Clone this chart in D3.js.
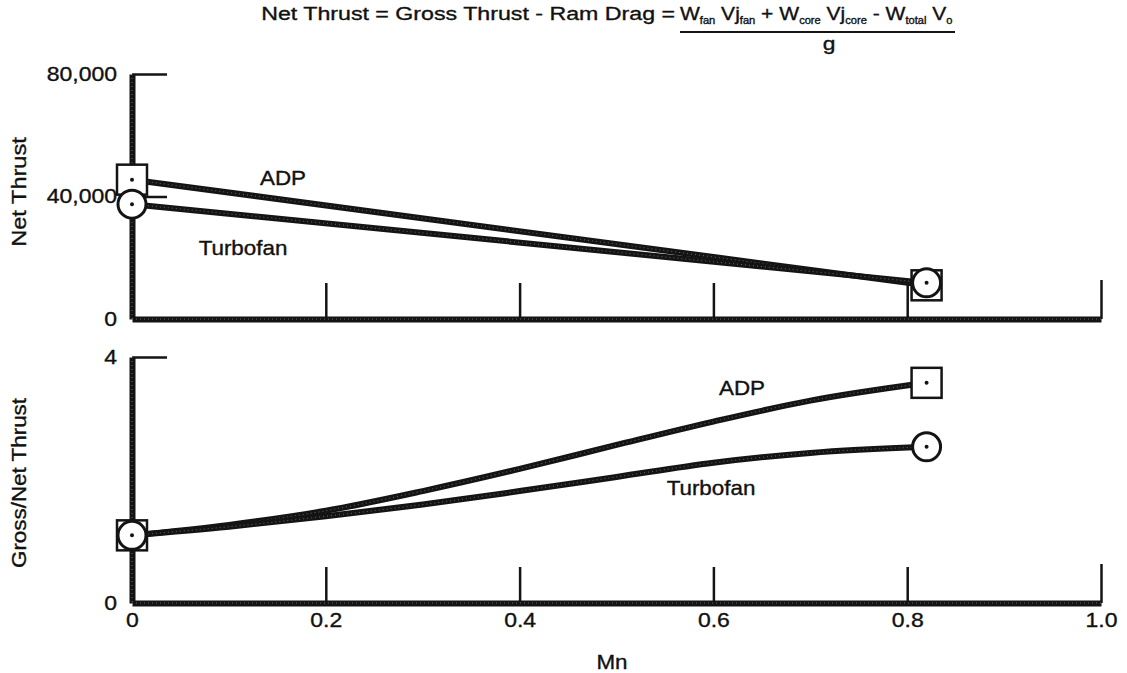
<!DOCTYPE html>
<html>
<head>
<meta charset="utf-8">
<script src="https://cdn.jsdelivr.net/npm/d3@7"></script>
<style>
  body { margin: 0; background: #fff; overflow: hidden; }
  svg { display: block; }
  text { font-family: "Liberation Sans", Arial, sans-serif; fill: #111; stroke: #111; stroke-width: 0.35; }
</style>
</head>
<body>
<div id="chart"></div>
<script>
"use strict"

const WIDTH = 1127;
const HEIGHT = 673;

// top panel: net thrust vs Mn
const mnTop = [0, 0.82];
const adpThrust = [45500, 11000];
const turbofanThrust = [37500, 11800];

// bottom panel: gross/net thrust vs Mn
const mnBottom = [0, 0.1, 0.2, 0.3, 0.4, 0.5, 0.6, 0.7, 0.82];
const adpRatio = [1.1, 1.27, 1.5, 1.82, 2.18, 2.57, 2.95, 3.29, 3.58];
const turbofanRatio = [1.1, 1.24, 1.41, 1.6, 1.82, 2.05, 2.28, 2.44, 2.54];

const xTicks = [0, 0.2, 0.4, 0.6, 0.8, 1.0];
const thrustTicks = [0, 40000, 80000];
const ratioTicks = [0, 4];

const INK = "#141414";
const STRETCH = 'scale(1.15,1)';   // the scanned lettering is wider than Arial

var svg = d3.select('#chart')
	.append('svg')
	.attr('width', WIDTH)
	.attr('height', HEIGHT);

var x = d3.scaleLinear().domain([0, 1]).range([132, 1101]);
var yTop = d3.scaleLinear().domain([0, 80000]).range([319, 74]);
var yBot = d3.scaleLinear().domain([0, 4]).range([603, 357]);

// thick halftone-ish stroke: dark line plus faint white dots
function thick(sel, w) {
	sel.attr('fill', 'none').attr('stroke', INK).attr('stroke-width', w);
}
function dots(g, d) {
	g.append('path').attr('d', d)
		.attr('fill', 'none')
		.attr('stroke', '#fff')
		.attr('stroke-width', 1)
		.attr('stroke-dasharray', '1 3')
		.attr('opacity', 0.35);
}

function panel(y, yMax) {
	var g = svg.append('g');

	// x axis with upward ticks
	var xa = g.append('g')
		.attr('transform', 'translate(0,' + y.range()[0] + ')')
		.call(d3.axisBottom(x).tickValues(xTicks.slice(1)).tickSize(-36).tickSizeOuter(0).tickFormat(''));
	xa.select('.domain').call(thick, 6);
	xa.selectAll('.tick line').attr('stroke', INK).attr('stroke-width', 2.5);
	xa.selectAll('.tick').filter(d => d === 1).select('line').attr('y2', -39);
	xa.selectAll('.tick text').remove();

	// y axis with ticks to the right
	var ya = g.append('g')
		.attr('transform', 'translate(' + x(0) + ',0)')
		.call(d3.axisRight(y).tickValues(yMax === 4 ? [yMax] : [yMax / 2, yMax]).tickSize(35).tickSizeOuter(0).tickFormat(''));
	ya.select('.domain').call(thick, 6);
	ya.selectAll('.tick line').attr('stroke', INK).attr('stroke-width', 2.5);
	ya.selectAll('.tick text').remove();

	dots(g, 'M' + x(0) + ',' + y.range()[0] + 'H' + x(1));
	dots(g, 'M' + x(0) + ',' + y.range()[1] + 'V' + y.range()[0]);
	return g;
}

var topPanel = panel(yTop, 80000);
var botPanel = panel(yBot, 4);

function styleLabels(g) {
	g.select('.domain').remove();
	g.selectAll('text').attr('font-size', 20).attr('fill', INK)
		.attr('font-family', null).attr('transform', STRETCH);
}

// y tick labels
svg.append('g')
	.attr('transform', 'translate(' + (x(0) - 15) + ',0)')
	.call(d3.axisLeft(yTop).tickValues(thrustTicks).tickSize(0).tickPadding(0).tickFormat(d3.format(',')))
	.call(styleLabels);
svg.append('g')
	.attr('transform', 'translate(' + (x(0) - 15) + ',0)')
	.call(d3.axisLeft(yBot).tickValues(ratioTicks).tickSize(0).tickPadding(0).tickFormat(d3.format('d')))
	.call(styleLabels);

// x tick labels
svg.append('g')
	.attr('transform', 'translate(0,613)')
	.call(d3.axisBottom(x).tickValues(xTicks).tickSize(0).tickPadding(0)
		.tickFormat(d => d === 0 ? '0' : d3.format('.1f')(d)))
	.call(styleLabels);

// axis titles
svg.append('text').attr('transform', 'translate(26,192) rotate(-90) scale(1.18,1)')
	.attr('text-anchor', 'middle').attr('font-size', 20).text('Net Thrust');
svg.append('text').attr('transform', 'translate(26,483) rotate(-90) scale(1.12,1)')
	.attr('text-anchor', 'middle').attr('font-size', 20).text('Gross/Net Thrust');
svg.append('text').attr('transform', 'translate(612,669) scale(1.12,1)')
	.attr('text-anchor', 'middle').attr('font-size', 20).text('Mn');

// data lines
function series(g, xs, ys, y, curve) {
	var line = d3.line().x((d, i) => x(xs[i])).y(d => y(d)).curve(curve);
	var d = line(ys);
	g.append('path').attr('d', d).call(thick, 6);
	dots(g, d);
}
series(topPanel, mnTop, adpThrust, yTop, d3.curveLinear);
series(topPanel, mnTop, turbofanThrust, yTop, d3.curveLinear);
series(botPanel, mnBottom, adpRatio, yBot, d3.curveMonotoneX);
series(botPanel, mnBottom, turbofanRatio, yBot, d3.curveMonotoneX);

// markers
function square(g, cx, cy) {
	g.append('rect').attr('x', cx - 15).attr('y', cy - 15).attr('width', 30).attr('height', 30)
		.attr('fill', '#fff').attr('stroke', INK).attr('stroke-width', 2.5);
	g.append('circle').attr('cx', cx).attr('cy', cy).attr('r', 2).attr('fill', INK);
}
function ring(g, cx, cy) {
	g.append('circle').attr('cx', cx).attr('cy', cy).attr('r', 14)
		.attr('fill', '#fff').attr('stroke', INK).attr('stroke-width', 3);
	g.append('circle').attr('cx', cx).attr('cy', cy).attr('r', 2).attr('fill', INK);
}
var last = mnTop.length - 1;
square(topPanel, x(mnTop[last]), yTop(adpThrust[last]));
ring(topPanel, x(mnTop[last]), yTop(turbofanThrust[last]));
square(topPanel, x(mnTop[0]), yTop(adpThrust[0]));
ring(topPanel, x(mnTop[0]), yTop(turbofanThrust[0]));

var lastB = mnBottom.length - 1;
square(botPanel, x(mnBottom[0]), yBot(adpRatio[0]));
ring(botPanel, x(mnBottom[0]), yBot(turbofanRatio[0]));
square(botPanel, x(mnBottom[lastB]), yBot(adpRatio[lastB]));
ring(botPanel, x(mnBottom[lastB]), yBot(turbofanRatio[lastB]));

// series labels
function label(g, lx, ly, s) {
	g.append('text').attr('transform', 'translate(' + lx + ',' + ly + ') scale(1.12,1)')
		.attr('text-anchor', 'middle').attr('font-size', 20).text(s);
}
label(topPanel, 283, 185, 'ADP');
label(topPanel, 243, 255, 'Turbofan');
label(botPanel, 742, 395, 'ADP');
label(botPanel, 711, 495, 'Turbofan');

// title with formula
var title = svg.append('g');
title.append('text').attr('transform', 'translate(675,20) scale(1.22,1)').attr('text-anchor', 'end')
	.attr('font-size', 19).text('Net Thrust = Gross Thrust - Ram Drag = ');
var num = title.append('text').attr('font-size', 19);
var parts = [['W', 'fan'], [' Vj', 'fan'], [' + W', 'core'], [' Vj', 'core'], [' - W', 'total'], [' V', 'o']];
parts.forEach(function(p, i) {
	num.append('tspan').attr('dy', i === 0 ? 0 : -4).text(p[0]);
	num.append('tspan').attr('font-size', 10).attr('dy', 4).text(p[1]);
});
var nw = num.node().getBBox().width;
var sx = 273 / nw;
num.attr('transform', 'translate(680,20) scale(' + sx + ',1)');
title.append('line').attr('x1', 680).attr('x2', 955).attr('y1', 32).attr('y2', 32)
	.attr('stroke', INK).attr('stroke-width', 2);
title.append('text').attr('transform', 'translate(829,50) scale(1.2,1)').attr('text-anchor', 'middle')
	.attr('font-size', 19).text('g');
</script>
</body>
</html>
